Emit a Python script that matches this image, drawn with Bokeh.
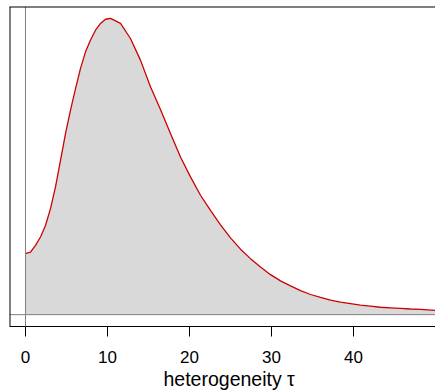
from bokeh.plotting import figure
from bokeh.models import Span, FixedTicker, Range1d, Title
from bokeh.embed import file_html
from bokeh.resources import INLINE

# heterogeneity tau and (relative) posterior density
tau = [0.0, 0.61, 1.22, 1.83, 2.44, 3.05, 3.66, 4.27, 4.88, 5.49, 6.10, 6.71,
       7.32, 7.93, 8.54, 9.15, 9.76, 10.37, 11.59, 12.80, 14.02, 15.24, 16.46,
       17.68, 18.90, 20.12, 21.34, 22.56, 23.78, 25.00, 26.22, 27.44, 28.66,
       29.88, 31.10, 32.32, 33.54, 34.76, 35.98, 37.20, 38.41, 39.63, 40.85,
       42.07, 43.29, 44.51, 45.73, 46.95, 48.17, 50.0]
density = [0.206, 0.211, 0.234, 0.262, 0.301, 0.358, 0.431, 0.521, 0.611, 0.690,
           0.763, 0.831, 0.887, 0.927, 0.960, 0.983, 0.997, 1.000, 0.983, 0.932,
           0.859, 0.769, 0.692, 0.611, 0.532, 0.465, 0.403, 0.352, 0.303, 0.259,
           0.221, 0.189, 0.161, 0.135, 0.114, 0.097, 0.081, 0.068, 0.058, 0.049,
           0.042, 0.037, 0.032, 0.029, 0.025, 0.023, 0.021, 0.019, 0.018, 0.014]
x_ticks = [0, 10, 20, 30, 40]
x_label = "heterogeneity τ"

ymax = max(density)
x0, x1 = -1.95, 50.0
y0, y1 = -0.04 * ymax, 1.04 * ymax

p = figure(width=435, height=390, output_backend="svg", toolbar_location=None,
           x_range=Range1d(x0, x1), y_range=Range1d(y0, y1),
           min_border_left=9, min_border_right=0, min_border_top=6,
           min_border_bottom=64)
p.outline_line_color = None
p.grid.visible = False
p.yaxis.visible = False
p.background_fill_color = "white"
p.border_fill_color = "white"

p.varea(x=tau, y1=[0] * len(tau), y2=density, fill_color="#D9D9D9", fill_alpha=1.0)
p.add_layout(Span(location=0, dimension="width", line_color="#7f7f7f", line_width=1))
p.add_layout(Span(location=0, dimension="height", line_color="#7f7f7f", line_width=1))
p.line(tau, density, line_color="#CD0000", line_width=1.3)

# box (top and left; bottom given by axis line)
p.add_layout(Span(location=y1, dimension="width", line_color="black", line_width=2))
p.add_layout(Span(location=x0, dimension="height", line_color="black", line_width=2))

ax = p.xaxis[0]
ax.ticker = FixedTicker(ticks=x_ticks)
ax.minor_tick_line_color = None
ax.major_tick_in = 0
ax.major_tick_out = 10
ax.major_tick_line_color = "black"
ax.axis_line_color = "black"
ax.major_label_text_font = "Liberation Sans"
ax.major_label_text_font_size = "17px"
ax.major_label_text_color = "black"
ax.major_label_standoff = 14

# axis title, centred on the full (partly clipped) plot region as in the original
p.add_layout(Title(text=x_label, align="left", offset=154, standoff=1,
                   text_font="Liberation Sans", text_font_size="19.5px",
                   text_font_style="normal", text_color="black"), "below")

open("out.html", "w").write(file_html(p, INLINE))
